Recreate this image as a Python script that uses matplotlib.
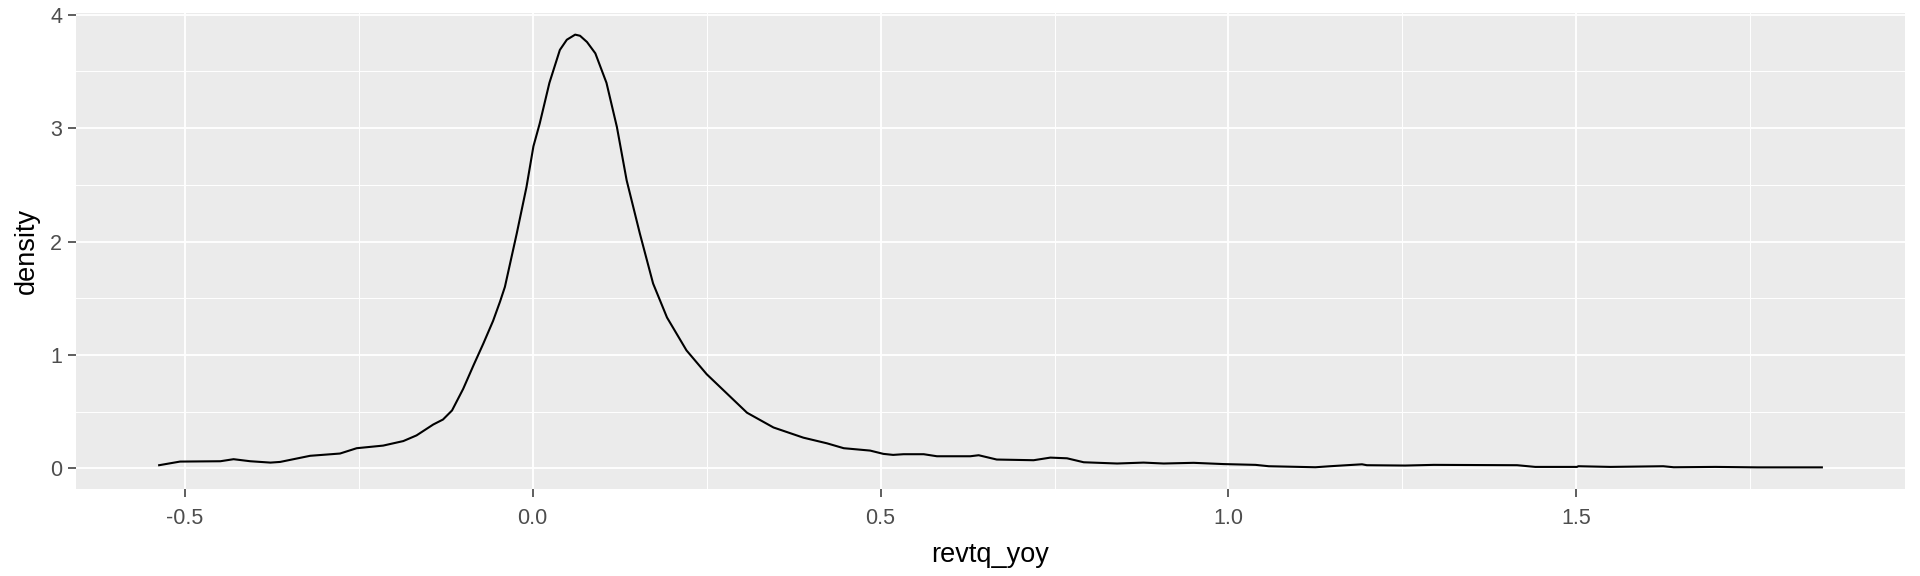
import numpy as np
import matplotlib
matplotlib.use("Agg")
import matplotlib.pyplot as plt
from matplotlib.ticker import FixedLocator

# ─── Data ────────────────────────────────────────────────────
revtq_yoy = [-0.537, -0.507, -0.449, -0.430, -0.406, -0.377, -0.363, -0.320,
             -0.277, -0.253, -0.215, -0.186, -0.167, -0.143, -0.129, -0.116,
             -0.100, -0.085, -0.071, -0.057, -0.047, -0.040, -0.023, -0.009,
             0.001, 0.010, 0.024, 0.039, 0.049, 0.061, 0.068, 0.078, 0.090,
             0.106, 0.121, 0.135, 0.154, 0.173, 0.193, 0.221, 0.250, 0.279,
             0.308, 0.346, 0.389, 0.423, 0.447, 0.485, 0.504, 0.518, 0.533,
             0.562, 0.581, 0.629, 0.641, 0.667, 0.720, 0.744, 0.768, 0.792,
             0.840, 0.878, 0.907, 0.950, 0.993, 1.039, 1.058, 1.125, 1.146,
             1.170, 1.192, 1.199, 1.254, 1.295, 1.415, 1.441, 1.501, 1.503,
             1.549, 1.625, 1.640, 1.700, 1.760, 1.853]
density = [0.027, 0.059, 0.062, 0.080, 0.062, 0.050, 0.056, 0.110,
           0.130, 0.177, 0.200, 0.240, 0.290, 0.386, 0.430, 0.510,
           0.700, 0.910, 1.100, 1.300, 1.470, 1.600, 2.070, 2.480,
           2.840, 3.040, 3.400, 3.690, 3.780, 3.825, 3.815, 3.760, 3.660,
           3.400, 3.010, 2.540, 2.070, 1.630, 1.330, 1.040, 0.830, 0.660,
           0.490, 0.360, 0.270, 0.220, 0.177, 0.156, 0.127, 0.118, 0.124,
           0.124, 0.106, 0.106, 0.115, 0.077, 0.071, 0.094, 0.088, 0.053,
           0.042, 0.050, 0.042, 0.048, 0.037, 0.030, 0.018, 0.009, 0.018,
           0.027, 0.035, 0.027, 0.024, 0.030, 0.027, 0.012, 0.012, 0.018,
           0.012, 0.018, 0.009, 0.012, 0.008, 0.008]

x_breaks = [-0.5, 0.0, 0.5, 1.0, 1.5]
x_labels = ["-0.5", "0.0", "0.5", "1.0", "1.5"]
y_breaks = [0, 1, 2, 3, 4]
y_labels = ["0", "1", "2", "3", "4"]

# ─── ggplot-like look ────────────────────────────────────────
plt.rcParams['font.family'] = ['Liberation Sans', 'DejaVu Sans']

fig = plt.figure(figsize=(19.2, 5.76), dpi=100)
ax = fig.add_axes([76 / 1920, 1 - 489 / 576, (1905 - 76) / 1920, (489 - 13) / 576])
ax.set_facecolor('#EBEBEB')
for s in ax.spines.values():
    s.set_visible(False)

x = np.array(revtq_yoy)
y = np.array(density)
xr = x.max() - x.min()
yr = y.max() - y.min()
ax.set_xlim(x.min() - 0.05 * xr, x.max() + 0.05 * xr)
ax.set_ylim(y.min() - 0.05 * yr, y.max() + 0.05 * yr)

ax.xaxis.set_major_locator(FixedLocator(x_breaks))
ax.set_xticklabels(x_labels)
ax.yaxis.set_major_locator(FixedLocator(y_breaks))
ax.set_yticklabels(y_labels)
ax.xaxis.set_minor_locator(FixedLocator([-0.25, 0.25, 0.75, 1.25, 1.75]))
ax.yaxis.set_minor_locator(FixedLocator([0.5, 1.5, 2.5, 3.5]))

ax.grid(True, which='major', color='white', linewidth=1.3)
ax.grid(True, which='minor', color='white', linewidth=0.7)
ax.set_axisbelow(True)

ax.tick_params(axis='both', which='major', length=6, width=1.1, color='#333333',
               labelcolor='#4D4D4D', labelsize=15.5)
ax.tick_params(axis='x', which='major', pad=8)
ax.tick_params(axis='y', which='major', pad=4)
ax.tick_params(axis='both', which='minor', length=0)

ax.plot(x, y, color='black', linewidth=1.5)

ax.set_xlabel('revtq_yoy', fontsize=19.5, color='black', labelpad=9)
ax.set_ylabel('density', fontsize=19.5, color='black', labelpad=7)

fig.savefig('out.png', dpi=100, facecolor='white')
